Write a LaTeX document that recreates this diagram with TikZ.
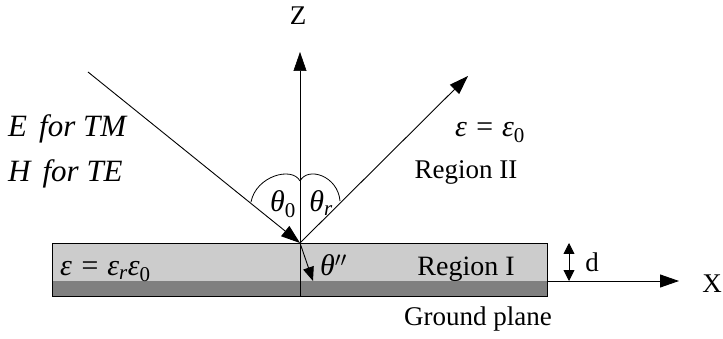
\documentclass[tikz,border=0pt]{standalone}
\usepackage{fontspec}
\setmainfont{Liberation Serif}
\usetikzlibrary{arrows.meta}
\tikzset{
  ray/.style={line width=0.9pt,-{Triangle[length=19pt,width=13pt]}},
  axis/.style={line width=0.9pt,-{Triangle[length=19pt,width=13pt]}},
  lbl/.style={inner sep=0pt,anchor=base,font=\fontsize{27}{30}\selectfont},
  ilbl/.style={inner sep=0pt,anchor=base west,font=\fontsize{31}{35}\selectfont\itshape},
  mlbl/.style={inner sep=0pt,anchor=base,font=\fontsize{30}{34}\selectfont\itshape},
}
\begin{document}
\begin{tikzpicture}[x=1pt,y=-1pt]
\useasboundingbox (0,0) rectangle (723,339);
% slab
\fill[black!20] (52,243) rectangle (547,281);
\fill[black!50] (52,281) rectangle (547,296);
\draw[line width=0.6pt] (52,243) rectangle (547,296);
% coordinates
\coordinate (O) at (300,243);
\coordinate (Zb) at (300,296);
\coordinate (Zt) at (300,52);
\coordinate (Ii) at (88,72);
\coordinate (Re) at (468,76);
\coordinate (Te) at (313,281);
\coordinate (Xs) at (547,281);
\coordinate (Xe) at (679,281);
\coordinate (Dt) at (569,243);
\coordinate (Db) at (569,281);
% axes
\draw[axis,line width=0.6pt] (Zb) -- (Zt);
\draw[axis] (Xs) -- (Xe);
% rays
\draw[ray] (Ii) -- (O);
\draw[ray] (O) -- (Re);
\draw[line width=0.9pt,-{Triangle[length=14pt,width=11pt]}] (O) -- (Te);
% thickness arrow
\draw[line width=0.9pt,{Triangle[length=11pt,width=11pt]}-{Triangle[length=11pt,width=11pt]}] (Dt) -- (Db);
% angle arcs
\coordinate (A1) at (251,202);
\coordinate (A2) at (300,181);
\coordinate (A3) at (340,201);
\draw[line width=0.8pt] (A1) .. controls (256,176) and (292,166) .. (A2);
\draw[line width=0.8pt] (A2) .. controls (308,166) and (338,176) .. (A3);
% labels
\node[lbl] (zl) at (298,25) {Z};
\node[lbl] (xl) at (712,292) {X};
\node[lbl] (dl) at (592,272) {d};
\node[ilbl] (etm) at (8,137) {E\hspace{12pt}for TM};
\node[ilbl] (hte) at (8,182) {H\hspace{12pt}for TE};
\node[mlbl] (eps0) at (490,137) {ε = ε\textsubscript{\upshape 0}};
\node[lbl] (r2) at (466,179) {Region II};
\node[mlbl] (th0) at (283,212) {θ\textsubscript{\upshape 0}};
\node[mlbl] (thr) at (321,212) {θ\textsubscript{r}};
\node[mlbl,anchor=base west] (epsr) at (60,276) {ε = ε\textsubscript{r}ε\textsubscript{\upshape 0}};
\node[mlbl,anchor=base west] (thpp) at (320,276) {θ$''$};
\node[lbl,font=\fontsize{28}{31}\selectfont] (r1) at (466,276) {Region I};
\node[lbl] (gp) at (478,325) {Ground plane};
\end{tikzpicture}
\end{document}
